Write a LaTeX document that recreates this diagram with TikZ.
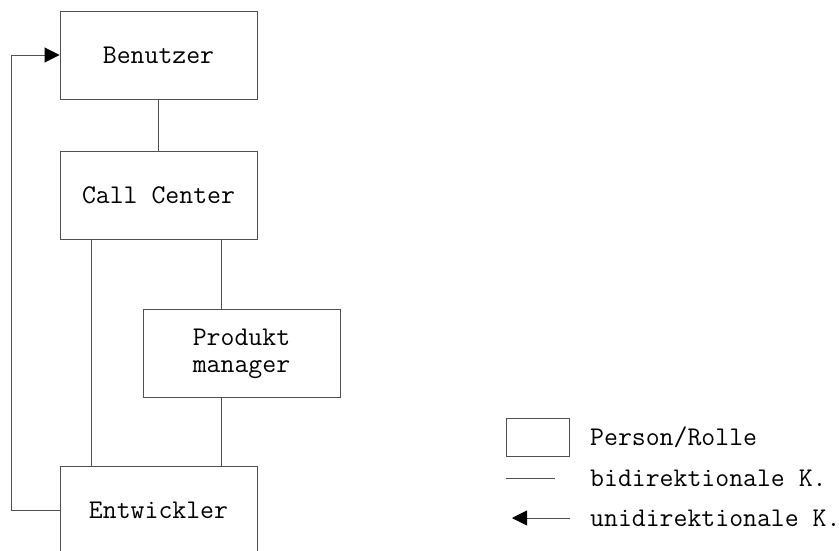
\documentclass[tikz,border=0pt]{standalone}
\usepackage{fontspec}
\usetikzlibrary{arrows.meta, calc, positioning}
\definecolor{rolegray}{HTML}{505050}

\begin{document}
\begin{tikzpicture}[x=1pt,y=-1pt,font=\ttfamily\fontsize{27}{27}\selectfont,
    role/.style={draw=rolegray,line width=0.9pt,rectangle,minimum width=197pt,minimum height=88pt,align=center,inner sep=0pt},
    link/.style={draw=rolegray,line width=0.9pt},
    uni/.style={link,-{Triangle[length=15pt,width=15pt,black]}}]
      \useasboundingbox (0,0) rectangle (839,551);
      % Rollen
      \node[role] (ben) at (158.5,55) {Benutzer};
      \node[role] (cc)  at (158.5,195) {Call Center};
      \node[role] (pm)  at (241.5,353.5) {Produkt\\manager};
      \node[role] (ent) at (158.5,510) {Entwickler};
      % Verbindungen
      \draw[link] (ben) -- (cc);
      \draw[link] ($(cc.south west)+(32,0)$) coordinate (cl) -- (cl |- ent.north);
      \draw[link] ($(cc.south west)+(162,0)$) coordinate (cr) -- (cr |- pm.north);
      \draw[link] (cr |- pm.south) -- (cr |- ent.north);
      \draw[uni] (ent.west) -- ++(-48,0) |- (ben.west);
      % Legende
      \node[draw=rolegray,line width=0.9pt,minimum width=63pt,minimum height=38pt,inner sep=0pt] (lbox) at (537.5,437) {};
      \node[anchor=west,inner sep=0pt] (lperson) at (590,437) {Person/Rolle};
      \node[anchor=west,inner sep=0pt] (lbi) at (590,478) {bidirektionale K.};
      \node[anchor=west,inner sep=0pt] (luni) at (590,518) {unidirektionale K.};
      \coordinate (bia) at (506,478);
      \coordinate (bib) at (555,478);
      \coordinate (unia) at (570,518);
      \coordinate (unib) at (512,518);
      \draw[link] (bia) -- (bib);
      \draw[uni] (unia) -- (unib);
    \end{tikzpicture}
\end{document}
